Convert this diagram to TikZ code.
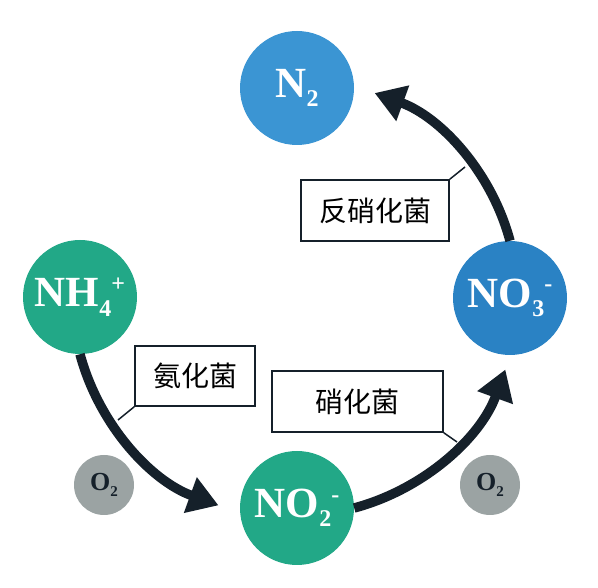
\documentclass[tikz,border=0pt]{standalone}
\usepackage{fontspec}
\setmainfont{Liberation Serif}
\newfontfamily\cjk{Noto Sans CJK SC}
\usetikzlibrary{shapes.geometric, arrows.meta}
\definecolor{tealc}{HTML}{22A887}
\definecolor{bluea}{HTML}{3B95D3}
\definecolor{blueb}{HTML}{2A82C4}
\definecolor{greyc}{HTML}{9BA3A3}
\definecolor{inkc}{HTML}{15202A}
\newcommand{\dn}[2][24]{\raisebox{-0.22em}{\fontsize{#1}{#1}\selectfont #2}}
\newcommand{\up}[1]{\raisebox{0.36em}{\fontsize{24}{24}\selectfont #1}}
\tikzstyle{ion} = [circle, minimum size=114pt, inner sep=0pt, text=white, font=\fontsize{43}{43}\selectfont\bfseries]
\tikzstyle{gas} = [circle, minimum size=60pt, inner sep=0pt, fill=greyc, text=inkc, font=\fontsize{26}{26}\selectfont\bfseries]
\tikzstyle{tag} = [rectangle, draw=inkc, line width=1.6pt, fill=white, inner sep=0pt, font=\cjk\fontsize{28}{28}\selectfont]
\tikzstyle{flow} = [line width=9.5pt, draw=inkc, -{Triangle[length=30pt,width=36pt]}]
\tikzstyle{link} = [line width=1.5pt, draw=inkc]
\begin{document}
\begin{tikzpicture}[x=1pt, y=1pt]
\useasboundingbox (0,0) rectangle (598,588);
\node (n2) [ion, fill=bluea] at (297,500) {N\dn{2}};
\node (nh4) [ion, fill=tealc] at (80,291) {NH\dn{4}\up{+}};
\node (no2) [ion, fill=tealc] at (297,80) {NO\dn{2}\up{-}};
\node (no3) [ion, fill=blueb] at (510,290) {NO\dn{3}\up{-}};
\node (oxa) [gas] at (104,103) {O\dn[15]{2}};
\node (oxb) [gas] at (490,103) {O\dn[15]{2}};
\node (amm) [tag, minimum width=120pt, minimum height=60pt] at (195,212) {氨化菌};
\node (nit) [tag, minimum width=171pt, minimum height=61pt] at (357.5,186.5) {硝化菌};
\node (den) [tag, minimum width=148pt, minimum height=61pt] at (375,377.5) {反硝化菌};
\coordinate (k1) at (118,168);
\coordinate (k2) at (457,146);
\coordinate (k3) at (465,421);
\draw [link] (amm.south west) -- (k1);
\draw [link] (nit.south east) -- (k2);
\draw [link] (den.north east) -- (k3);
\draw [flow] (nh4.south) arc[start angle=195, end angle=250, radius=222pt];
\draw [flow] (no2.east) arc[start angle=285, end angle=340, radius=222pt];
\draw [flow] (no3.north) arc[start angle=15, end angle=70, radius=217pt];
\end{tikzpicture}
\end{document}
